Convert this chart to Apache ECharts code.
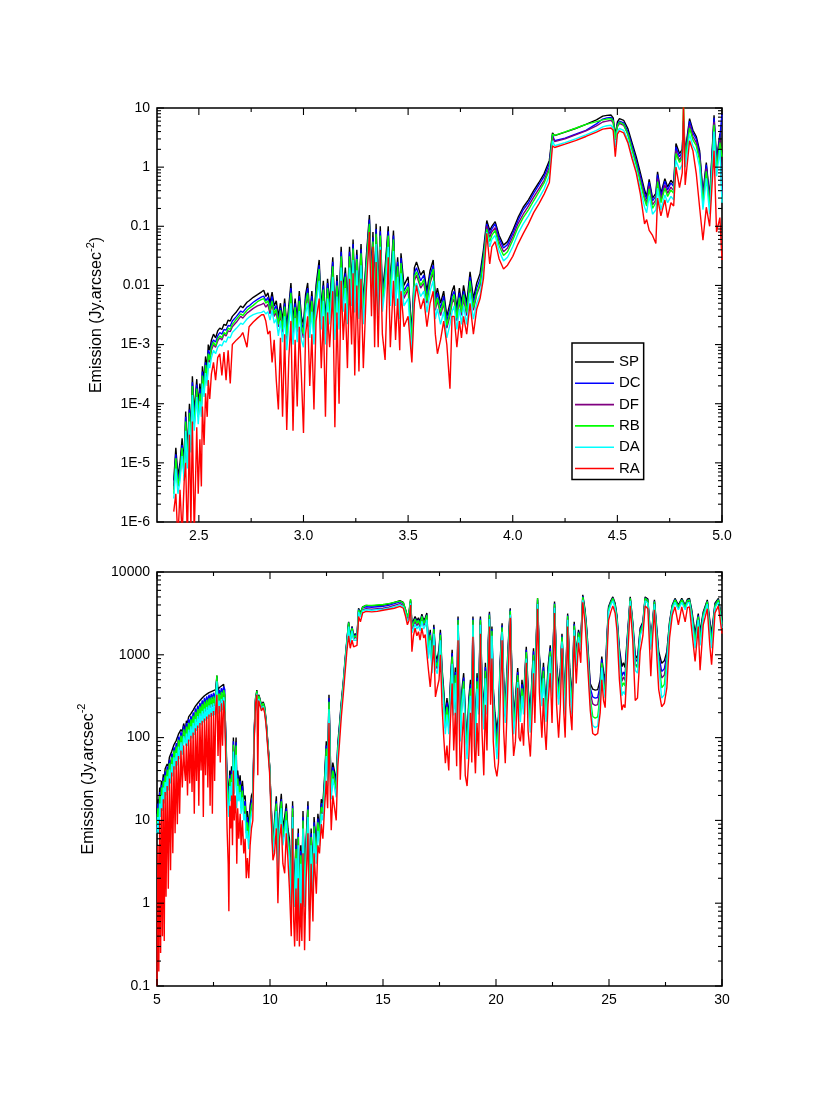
<!DOCTYPE html>
<html><head><meta charset="utf-8">
<script src="https://cdn.jsdelivr.net/npm/echarts@6/dist/echarts.min.js"></script>
<style>html,body{margin:0;padding:0;background:#fff}#c{width:830px;height:1110px}</style>
</head><body><div id="c"></div>
<script>
const seriesNames = ['SP','DC','DF','RB','DA','RA'];
const seriesColors = ['#000000','#0000ff','#800080','#00ff00','#00ffff','#ff0000'];

// ---------- top panel (2.3 - 5.0) ----------
const topX = [2.380,2.390,2.400,2.410,2.420,2.430,2.437,2.445,2.455,2.462,
2.469,2.478,2.490,2.497,2.505,2.512,2.517,2.525,2.532,2.540,
2.545,2.552,2.560,2.570,2.580,2.590,2.600,2.610,2.620,2.630,
2.640,2.650,2.660,2.680,2.700,2.710,2.730,2.740,2.760,2.780,
2.800,2.810,2.820,2.830,2.840,2.850,2.860,2.870,2.880,2.890,
2.900,2.910,2.920,2.930,2.940,2.950,2.960,2.970,2.980,2.990,
3.000,3.010,3.020,3.030,3.040,3.050,3.060,3.075,3.085,3.095,
3.105,3.115,3.125,3.140,3.150,3.160,3.170,3.180,3.190,3.200,
3.210,3.220,3.230,3.237,3.245,3.255,3.265,3.275,3.286,3.300,
3.315,3.325,3.332,3.340,3.347,3.357,3.367,3.377,3.390,3.405,
3.415,3.430,3.440,3.450,3.460,3.466,3.480,3.500,3.518,3.530,
3.540,3.560,3.575,3.590,3.605,3.620,3.630,3.640,3.655,3.670,
3.685,3.700,3.710,3.720,3.733,3.745,3.755,3.765,3.780,3.796,
3.812,3.828,3.844,3.860,3.876,3.890,3.900,3.916,3.935,3.956,
3.975,4.000,4.025,4.050,4.075,4.100,4.125,4.150,4.175,4.190,
4.200,4.250,4.300,4.350,4.400,4.430,4.450,4.470,4.480,4.490,
4.500,4.510,4.530,4.550,4.570,4.590,4.610,4.630,4.640,4.652,
4.668,4.684,4.692,4.708,4.727,4.740,4.756,4.769,4.780,4.797,
4.810,4.816,4.824,4.845,4.861,4.877,4.893,4.909,4.925,4.941,
4.962,4.974,4.990,5.000];
const topSP = [5e-6,1.8e-5,6e-6,1e-5,2.6e-5,1e-5,7.4e-5,1.5e-5,1e-4,3e-5,
2.9e-4,7e-5,2.6e-4,9e-5,2.2e-4,1.2e-4,4.3e-4,2.5e-4,6.3e-4,4e-4,
1e-3,8e-4,1.2e-3,1.5e-3,1.3e-3,1.7e-3,1.9e-3,1.8e-3,2.2e-3,2.1e-3,
2.6e-3,2.5e-3,3e-3,3.6e-3,4.5e-3,4.2e-3,5.2e-3,5.5e-3,6.3e-3,7e-3,
7.8e-3,8.3e-3,6.5e-3,7.5e-3,5e-3,7.7e-3,4.5e-3,5.5e-3,3e-3,5e-3,
2.5e-3,6e-3,2e-3,4.5e-3,1.1e-2,2.5e-3,6e-3,2.6e-3,8e-3,3e-3,
2.2e-3,7e-3,1.1e-2,3e-3,8e-3,2.5e-3,1e-2,2.7e-2,4e-3,1.2e-2,
2.5e-3,1.3e-2,5e-3,3e-2,3e-3,1.5e-2,4e-3,4.5e-2,8e-3,2e-2,
5e-3,4.5e-2,1e-2,6e-2,8e-3,4e-2,6e-3,5e-2,5e-3,3e-2,
0.155,1.5e-2,8e-2,6e-3,0.11,7e-3,0.1,8e-3,2e-2,0.1,
1e-2,8.5e-2,1e-2,3e-2,6e-3,3.5e-2,1e-2,1.4e-2,1.6e-3,2e-2,
2.5e-2,1.5e-2,1.8e-2,8e-3,1.8e-2,2.7e-2,6e-3,9e-3,5e-3,8e-3,
3e-3,5e-3,8e-3,1e-2,4e-3,9e-3,5e-3,1e-2,5e-3,1.7e-2,
6e-3,1.1e-2,1.6e-2,4e-2,0.125,8.5e-2,0.1,0.12,7e-2,4.8e-2,
5.5e-2,8.5e-2,0.14,0.21,0.28,0.4,0.55,0.78,1.3,3.8,
3.4,3.9,4.5,5.3,6.3,7.3,7.5,7.6,6.8,3.5,
5.8,6.6,6.2,4.5,2.6,1.5,0.8,0.41,0.32,0.62,
0.3,0.36,0.83,0.36,0.64,0.46,0.6,0.52,2.5,1.7,
2,6,1.8,6.6,4.2,3.3,1.9,0.36,1.2,0.3,
7.5,1.3,3.7,0.4];
const topDC = [4e-6,1.4e-5,5e-6,8e-6,2e-5,8e-6,6e-5,1.2e-5,8e-5,2.4e-5,
2.3e-4,5.5e-5,2.1e-4,7e-5,1.8e-4,1e-4,3.5e-4,2e-4,5e-4,3.2e-4,
8e-4,6.5e-4,1e-3,1.2e-3,1.1e-3,1.4e-3,1.6e-3,1.5e-3,1.8e-3,1.75e-3,
2.1e-3,2.05e-3,2.5e-3,3e-3,3.7e-3,3.5e-3,4.3e-3,4.5e-3,5.2e-3,5.8e-3,
6.4e-3,6.6e-3,5.5e-3,6.3e-3,4.2e-3,6.5e-3,3.8e-3,4.6e-3,2.5e-3,4.2e-3,
2e-3,5e-3,1.6e-3,3.8e-3,9e-3,2e-3,5e-3,2.1e-3,6.6e-3,2.4e-3,
1.8e-3,5.8e-3,9e-3,2.5e-3,6.6e-3,2e-3,8e-3,2.2e-2,3.3e-3,1e-2,
2e-3,1.1e-2,4e-3,2.5e-2,2.4e-3,1.2e-2,3.3e-3,3.7e-2,6.5e-3,1.6e-2,
4e-3,3.7e-2,8e-3,5e-2,6.5e-3,3.3e-2,5e-3,4.1e-2,4e-3,2.5e-2,
0.13,1.2e-2,6.5e-2,5e-3,9e-2,5.8e-3,8.2e-2,6.6e-3,1.6e-2,8.2e-2,
8e-3,7e-2,8e-3,2.5e-2,5e-3,2.9e-2,8e-3,1.1e-2,1.3e-3,1.6e-2,
2e-2,1.2e-2,1.5e-2,6.5e-3,1.5e-2,2.2e-2,5e-3,7.5e-3,4.1e-3,6.6e-3,
2.5e-3,4.1e-3,6.6e-3,8e-3,3.3e-3,7.5e-3,4.1e-3,8e-3,4.1e-3,1.4e-2,
5e-3,9e-3,1.3e-2,3.3e-2,0.11,7.5e-2,9e-2,0.11,6.2e-2,4.3e-2,
4.9e-2,7.6e-2,0.125,0.19,0.25,0.36,0.5,0.7,1.15,3.5,
2.8,3.1,3.6,4.2,5.4,6.5,6.8,6.9,6.2,3.2,
5.3,6.0,5.6,4.0,2.3,1.3,0.7,0.36,0.29,0.56,
0.27,0.32,0.75,0.32,0.58,0.41,0.54,0.47,2.2,1.5,
1.8,5.5,1.6,6,3.8,3,1.7,0.32,1.1,0.27,
6.8,1.2,3.3,8];
const topDF = [3.5e-6,1.1e-5,4e-6,6e-6,1.6e-5,6e-6,4.5e-5,1e-5,6e-5,2e-5,
1.8e-4,4.5e-5,1.7e-4,6e-5,1.4e-4,8e-5,2.8e-4,1.6e-4,4e-4,2.6e-4,
6.5e-4,5e-4,8e-4,1e-3,9e-4,1.15e-3,1.3e-3,1.2e-3,1.5e-3,1.4e-3,
1.7e-3,1.65e-3,2e-3,2.4e-3,3e-3,2.8e-3,3.4e-3,3.6e-3,4.1e-3,4.5e-3,
4.8e-3,5e-3,4.3e-3,4.8e-3,3.3e-3,5e-3,3e-3,3.5e-3,2e-3,3.3e-3,
1.6e-3,4e-3,1.2e-3,3e-3,7e-3,1.5e-3,4e-3,1.6e-3,5e-3,1.8e-3,
1.3e-3,4.5e-3,7e-3,1.9e-3,5e-3,1.5e-3,6e-3,1.7e-2,2.5e-3,7.5e-3,
1.5e-3,8e-3,3e-3,1.9e-2,1.8e-3,9e-3,2.5e-3,2.8e-2,5e-3,1.2e-2,
3e-3,2.8e-2,6e-3,3.8e-2,5e-3,2.5e-2,3.8e-3,3.1e-2,3e-3,1.9e-2,
0.1,9e-3,5e-2,3.8e-3,7e-2,4.4e-3,6.2e-2,5e-3,1.2e-2,6.2e-2,
6e-3,5.3e-2,6e-3,1.9e-2,3.8e-3,2.2e-2,6e-3,8.5e-3,1e-3,1.2e-2,
1.5e-2,9e-3,1.1e-2,5e-3,1.1e-2,1.7e-2,3.8e-3,5.6e-3,3.1e-3,5e-3,
1.9e-3,3.1e-3,5e-3,6e-3,2.5e-3,5.6e-3,3.1e-3,6e-3,3.1e-3,1.05e-2,
3.8e-3,7e-3,1e-2,2.5e-2,0.1,6.5e-2,8e-2,9.5e-2,5.4e-2,3.7e-2,
4.3e-2,6.6e-2,0.11,0.16,0.22,0.31,0.43,0.6,1,3.3,
2.7,3.0,3.5,4.1,5.0,5.8,6.0,6.2,5.6,2.9,
4.8,5.5,5.1,3.6,2.0,1.15,0.6,0.31,0.25,0.48,
0.23,0.28,0.64,0.28,0.5,0.36,0.46,0.4,1.9,1.3,
1.6,5,1.4,5.2,3.3,2.6,1.5,0.28,0.95,0.24,
5.8,1,2.9,0.35];
const topRB = [3e-6,1.2e-5,4e-6,7e-6,1.8e-5,7e-6,5e-5,1e-5,7e-5,2e-5,
2e-4,4.5e-5,1.8e-4,6e-5,1.5e-4,8e-5,3e-4,1.7e-4,4.5e-4,2.8e-4,
7e-4,5.5e-4,9e-4,1.1e-3,9.5e-4,1.25e-3,1.4e-3,1.3e-3,1.6e-3,1.5e-3,
1.9e-3,1.8e-3,2.2e-3,2.7e-3,3.3e-3,3.1e-3,3.8e-3,4.1e-3,4.6e-3,5.3e-3,
5.8e-3,6e-3,5e-3,5.5e-3,3.8e-3,5.5e-3,3.3e-3,4e-3,2.2e-3,3.8e-3,
1.8e-3,4.4e-3,1.4e-3,3.2e-3,7.5e-3,1.7e-3,4.3e-3,1.8e-3,5.5e-3,2e-3,
1.5e-3,5e-3,7.5e-3,2.1e-3,5.5e-3,1.7e-3,7e-3,1.9e-2,2.8e-3,8.5e-3,
1.7e-3,9e-3,3.4e-3,2.1e-2,2e-3,1e-2,2.8e-3,3.1e-2,5.5e-3,1.4e-2,
3.4e-3,3.1e-2,7e-3,4.2e-2,5.5e-3,2.8e-2,4.2e-3,3.5e-2,3.4e-3,2.1e-2,
0.11,1e-2,5.5e-2,4.2e-3,7.5e-2,4.9e-3,7e-2,5.5e-3,1.4e-2,7e-2,
7e-3,6e-2,7e-3,2.1e-2,4.2e-3,2.4e-2,7e-3,9.5e-3,1.1e-3,1.4e-2,
1.7e-2,1e-2,1.25e-2,5.5e-3,1.25e-2,1.9e-2,4.2e-3,6.2e-3,3.5e-3,5.5e-3,
2.1e-3,3.5e-3,5.5e-3,7e-3,2.8e-3,6.2e-3,3.5e-3,7e-3,3.5e-3,1.2e-2,
4.2e-3,7.5e-3,1.1e-2,2.8e-2,9e-2,5.5e-2,7e-2,8.5e-2,4.7e-2,3.2e-2,
3.7e-2,5.8e-2,9.5e-2,0.14,0.19,0.27,0.38,0.54,0.9,3.6,
3.45,3.95,4.55,5.3,5.9,6.3,6.5,6.6,6.0,3.0,
5.0,5.8,5.3,3.6,2.0,1.1,0.55,0.28,0.22,0.43,
0.2,0.25,0.57,0.25,0.44,0.32,0.41,0.36,1.7,1.2,
1.4,12,1.3,4.6,2.9,2.3,1.3,0.25,0.85,0.21,
5.2,0.9,2.6,1.5];
const topDA = [2.5e-6,8e-6,3e-6,5e-6,1.3e-5,5e-6,3.5e-5,8e-6,5e-5,1.5e-5,
1.4e-4,3.5e-5,1.3e-4,4.5e-5,1.1e-4,6e-5,2.2e-4,1.3e-4,3.3e-4,2e-4,
5e-4,4e-4,6e-4,8e-4,7e-4,9e-4,1e-3,9.5e-4,1.15e-3,1.1e-3,
1.35e-3,1.3e-3,1.6e-3,1.9e-3,2.3e-3,2.2e-3,2.7e-3,2.9e-3,3.2e-3,3.4e-3,
3.5e-3,3.7e-3,3.3e-3,3.6e-3,2.6e-3,3.8e-3,2.3e-3,2.7e-3,1.4e-3,2.5e-3,
1.1e-3,3e-3,8e-4,2.2e-3,5e-3,1e-3,2.8e-3,1.1e-3,3.7e-3,1.2e-3,
9e-4,3.3e-3,5e-3,1.3e-3,3.6e-3,1e-3,4.5e-3,1.2e-2,1.8e-3,5.5e-3,
1e-3,6e-3,2.2e-3,1.4e-2,1.2e-3,6.5e-3,1.8e-3,2e-2,3.6e-3,9e-3,
2.2e-3,2e-2,4.5e-3,2.7e-2,3.5e-3,1.8e-2,2.7e-3,2.2e-2,2.2e-3,1.4e-2,
7e-2,6.5e-3,3.6e-2,2.7e-3,5e-2,3.2e-3,4.5e-2,3.6e-3,9e-3,4.5e-2,
4.5e-3,3.8e-2,4.5e-3,1.4e-2,2.7e-3,1.6e-2,4.5e-3,6e-3,7e-4,9e-3,
1.1e-2,6.5e-3,8e-3,3.5e-3,8e-3,1.2e-2,2.7e-3,4e-3,2.2e-3,3.6e-3,
1.3e-3,2.2e-3,3.6e-3,4.5e-3,1.8e-3,4e-3,2.2e-3,4.5e-3,2.2e-3,7.5e-3,
2.7e-3,5e-3,7e-3,1.8e-2,8e-2,4.5e-2,6e-2,7e-2,3.8e-2,2.6e-2,
3e-2,4.5e-2,7.5e-2,0.11,0.15,0.22,0.3,0.43,0.72,2.8,
2.3,2.6,3.0,3.5,4.2,4.8,5.0,5.1,4.6,2.2,
4.0,4.5,4.2,2.9,1.6,0.9,0.43,0.21,0.17,0.33,
0.16,0.19,0.44,0.19,0.34,0.25,0.32,0.28,1.3,0.9,
1.1,6,1,3.6,2.3,1.8,1,0.19,0.65,0.16,
4,0.7,2,0.25];
const topRA = [1.5e-6,3e-6,5e-7,3.5e-6,6e-7,5e-6,1e-5,5e-7,3e-5,8e-7,
5e-5,6e-7,4e-5,3e-6,2.5e-5,4e-6,9e-5,2e-5,1.5e-4,6e-5,
2.5e-4,1.2e-4,3.2e-4,5e-4,2.5e-4,6e-4,7e-4,3e-4,7.5e-4,2.5e-4,
8e-4,2.2e-4,1e-3,1.2e-3,1.4e-3,1.6e-3,9e-4,2e-3,2.4e-3,2.8e-3,
3.2e-3,3.2e-3,2.5e-3,1.5e-3,1.7e-3,5e-4,1.2e-3,2.5e-4,8e-5,1.3e-3,
6e-5,1.5e-3,3.6e-5,6e-4,2.5e-3,3.5e-5,1.2e-3,9e-5,2e-3,3e-4,
3.2e-5,1.5e-3,3e-3,2e-4,1.5e-3,8e-5,2.5e-3,6e-3,4e-4,3e-3,
6e-5,3.5e-3,9e-4,8e-3,4e-5,3.5e-3,1e-4,1.2e-2,1.2e-3,5e-3,
4e-4,1.3e-2,1e-3,1.6e-2,3e-4,1e-2,3.5e-4,1.3e-2,4e-4,8e-3,
8e-2,3e-3,4.5e-2,9e-4,2.5e-2,9e-4,4e-2,1.5e-3,5.5e-4,3e-2,
9e-4,1.2e-2,1.2e-3,6e-3,8e-4,8e-3,2e-3,3e-3,5e-4,5e-3,
1e-2,4e-3,6e-3,2e-3,5e-3,8e-3,1.5e-3,7e-4,1.2e-3,2.5e-3,
1e-3,1.8e-4,3e-3,3e-3,9e-4,2.5e-3,1.3e-3,3e-3,1.5e-3,5e-3,
1.5e-3,4e-3,6e-3,1.3e-2,7.6e-2,2.3e-2,4.5e-2,5.5e-2,2.8e-2,1.9e-2,
2.2e-2,3.1e-2,5e-2,7.5e-2,0.11,0.17,0.24,0.35,0.55,2.3,
2.15,2.45,2.8,3.3,3.9,4.4,4.5,4.6,4.2,1.5,
3.6,4.1,3.8,2.6,1.4,0.8,0.35,0.11,0.13,0.085,
0.07,0.051,0.3,0.15,0.28,0.14,0.25,0.22,1.0,0.45,
0.8,12,0.5,2.8,1.9,0.78,0.21,0.058,0.21,0.1,
1.9,0.08,0.14,0.027];

// ---------- bottom panel (5 - 30) ----------
const botX = [5.00,5.04,5.08,5.12,5.16,5.20,5.24,5.28,5.32,5.36,
5.40,5.45,5.50,5.55,5.60,5.65,5.70,5.75,5.80,5.85,
5.90,5.95,6.00,6.06,6.12,6.18,6.22,6.26,6.30,6.35,
6.40,6.45,6.50,6.55,6.60,6.65,6.70,6.75,6.80,6.85,
6.90,6.95,7.00,7.05,7.10,7.15,7.20,7.25,7.30,7.35,
7.40,7.45,7.50,7.55,7.60,7.65,7.70,7.75,7.80,7.85,
7.90,7.95,8.00,8.03,8.06,8.10,8.15,8.18,8.22,8.26,
8.30,8.34,8.38,8.42,8.46,8.50,8.53,8.57,8.62,8.68,
8.72,8.78,8.84,8.90,8.95,9.00,9.06,9.12,9.18,9.24,
9.30,9.36,9.42,9.46,9.50,9.55,9.62,9.70,9.76,9.83,
9.90,9.98,10.05,10.13,10.20,10.28,10.35,10.42,10.50,10.57,
10.65,10.72,10.79,10.86,10.94,11.00,11.05,11.09,11.15,11.20,
11.25,11.30,11.36,11.41,11.46,11.53,11.60,11.68,11.75,11.82,
11.90,11.95,12.05,12.12,12.19,12.27,12.34,12.42,12.49,12.55,
12.61,12.67,12.71,12.78,12.86,12.93,13.00,13.08,13.15,13.25,
13.32,13.40,13.48,13.55,13.63,13.70,13.77,13.85,13.92,14.00,
14.10,14.25,14.50,14.75,15.00,15.25,15.50,15.75,15.90,16.00,
16.08,16.15,16.22,16.28,16.35,16.42,16.50,16.57,16.64,16.72,
16.80,16.87,16.94,17.01,17.09,17.17,17.25,17.32,17.40,17.48,
17.54,17.61,17.68,17.76,17.83,17.91,17.98,18.06,18.13,18.20,
18.26,18.32,18.38,18.42,18.50,18.57,18.64,18.72,18.80,18.87,
18.93,18.98,19.04,19.09,19.16,19.23,19.31,19.38,19.46,19.53,
19.60,19.66,19.71,19.76,19.82,19.88,19.95,20.04,20.11,20.18,
20.27,20.34,20.41,20.48,20.55,20.63,20.70,20.78,20.86,20.96,
21.02,21.08,21.15,21.22,21.34,21.42,21.52,21.60,21.66,21.72,
21.84,21.92,22.03,22.10,22.16,22.22,22.30,22.40,22.48,22.59,
22.68,22.77,22.85,22.92,23.00,23.06,23.17,23.26,23.36,23.46,
23.55,23.65,23.75,23.84,23.94,24.02,24.17,24.28,24.39,24.50,
24.61,24.68,24.76,24.83,24.90,24.98,25.08,25.17,25.27,25.35,
25.46,25.57,25.64,25.71,25.80,25.94,26.05,26.16,26.26,26.38,
26.50,26.60,26.72,26.85,26.93,27.01,27.12,27.20,27.33,27.45,
27.56,27.68,27.80,27.92,28.07,28.22,28.37,28.47,28.56,28.66,
28.81,28.95,29.03,29.17,29.35,29.46,29.54,29.69,29.84,30.00];
const botSP = [12,18,15,25,22,30,27,36,33,42,
40,48,45,58,55,68,65,82,78,92,
88,110,105,125,118,148,150,118,160,150,
178,170,195,185,215,205,240,228,260,250,
280,268,300,290,320,305,335,320,350,340,
360,350,370,355,380,560,370,400,390,420,
410,440,420,150,81,35,25,20,40,28,
45,30,100,35,60,100,25,40,28,35,
20,30,18,20,10,13,8,15,20,22,
120,300,375,200,330,300,250,270,240,160,
90,48,16,4.8,10,19.5,4,12,21,8,
11,16,8,6,1.4,17,2,1.5,6,1.2,
8,1,5,1.2,13,1.5,6,17,1.1,8,
2.1,11,4.8,12,7.7,18,16,35,90,40,
330,60,28,50,49,30,85,150,260,500,
870,1500,2500,1600,2200,1700,1800,1700,3650,3200,
3800,3950,3900,3950,4000,4100,4300,4500,4300,3500,
2900,3200,4600,2400,2600,2900,2600,2800,2500,3100,
2600,2800,3200,1250,2000,900,2300,1000,870,1200,
2000,700,400,180,300,180,450,1150,300,700,
200,2900,500,150,400,600,200,93,300,500,
250,2900,400,100,600,300,2900,500,200,800,
300,1500,3300,800,2200,400,200,124,180,800,
2400,500,250,600,1500,3650,700,180,300,690,
350,250,500,300,1250,400,200,600,1200,500,
4800,1000,380,800,400,250,700,1300,500,4400,
800,400,700,1800,600,300,3150,700,300,2500,
1000,2000,1500,5300,3500,2000,450,385,375,380,
500,950,600,500,1500,3800,4500,5000,4200,3000,
1200,720,800,700,1500,5000,2500,1000,900,2100,
2500,5000,4700,1500,2500,4600,2000,1100,790,850,
1100,2500,4000,4800,4000,4800,4000,4700,4800,3500,
1800,3150,1900,3300,4600,2600,1800,4200,4800,2600];
const botDC = [10,16,12,22,18,27,22,33,27,39,
33,45,37,54,45,64,54,77,65,86,
74,103,88,117,99,139,141,105,150,126,
167,143,183,156,202,172,226,192,244,210,
263,225,282,244,301,256,315,269,329,286,
338,294,348,298,357,540,311,376,328,395,
344,414,380,130,70,30,21,17,35,24,
40,26,90,30,53,88,21,35,24,30,
17,26,15,17,8.5,11,7,13,17,19,
110,290,360,190,320,290,240,260,230,155,
87,46,15,4.5,9,17,3.5,10.5,18,7,
9.5,14,7,5,1.2,15,1.7,1.3,5,1,
7,0.85,4.3,1,11,1.3,5,15,0.95,7,
1.8,9.5,4.2,10.5,6.8,16,14,31,80,36,
300,53,25,44,43,27,78,140,245,470,
830,1450,2450,1550,2150,1650,1750,1650,3550,3100,
3700,3800,3750,3800,3850,3950,4150,4350,4150,3400,
2800,3100,4500,2250,2450,2750,2450,2650,2350,2950,
2450,2650,3050,1150,1850,800,2150,900,780,1100,
1850,620,350,160,265,155,400,1050,260,620,
175,2750,440,130,350,530,175,80,265,440,
220,2750,350,88,530,265,2750,440,175,710,
265,1350,3150,710,2050,350,170,105,155,710,
2250,440,215,530,1350,3500,620,155,265,620,
310,220,440,265,1150,350,170,530,1100,440,
4600,900,330,710,350,220,620,1200,440,4200,
710,350,620,1700,530,265,3000,620,265,2350,
920,1900,1400,5100,3300,1850,400,310,300,305,
440,880,550,450,1400,3650,4350,4850,4050,2850,
1100,550,620,560,1400,4850,2350,900,820,2000,
2400,4850,4550,1400,2400,4450,1850,1000,630,680,
1000,2400,3900,4650,3850,4650,3850,4550,4650,3300,
1600,3000,1700,3150,4450,2400,1600,4050,4650,2450];
const botDF = [8,13,9,18,14,23,17,28,21,33,
26,39,29,47,36,56,43,67,52,75,
59,90,70,102,79,121,123,92,131,101,
146,114,160,124,176,138,197,154,213,168,
230,180,246,195,262,205,275,215,287,228,
295,235,303,239,312,520,249,328,262,344,
276,361,320,110,58,25,17,14,30,20,
34,22,78,25,45,75,17,30,20,26,
14,22,12,14,7,9,5.5,11,14,16,
100,280,350,180,305,280,230,250,220,150,
84,44,14,4.2,8,15,3,9,16,6,
8,12,6,4.3,1,13,1.4,1.1,4.3,0.85,
6,0.7,3.6,0.85,9.5,1.1,4.3,13,0.8,6,
1.5,8,3.6,9,5.8,14,12,27,70,31,
260,46,21,38,37,23,70,125,225,440,
780,1380,2350,1450,2050,1550,1650,1550,3400,2950,
3500,3600,3550,3600,3650,3750,3950,4150,3950,3250,
2650,2950,4300,2050,2250,2550,2250,2450,2150,2750,
2250,2450,2850,1000,1650,700,1950,780,680,950,
1650,530,300,130,220,130,340,900,220,530,
145,2500,370,110,300,450,145,68,220,370,
185,2500,290,74,450,220,2500,370,145,600,
220,1150,2900,600,1850,290,140,92,130,600,
2050,370,180,450,1150,3250,530,130,220,540,
260,185,370,220,1000,290,140,450,950,370,
4300,780,280,600,290,185,530,1050,370,3900,
600,290,530,1550,450,220,2800,530,220,2150,
800,1750,1250,4800,3050,1650,350,255,245,250,
380,780,480,400,1250,3450,4150,4650,3850,2650,
950,480,540,490,1250,4650,2150,780,720,1850,
2250,4650,4350,1250,2250,4250,1650,870,525,570,
880,2250,3700,4450,3650,4450,3650,4350,4450,3050,
1400,2800,1500,2950,4250,2150,1400,3850,4450,2250];
const botRB = [9,14,10,20,15,25,18,30,22,35,
27,41,31,49,38,58,45,70,55,78,
62,94,74,106,83,126,128,95,136,106,
151,120,166,130,183,145,204,160,221,175,
238,188,255,203,272,214,285,224,298,238,
306,245,315,249,323,560,259,340,273,357,
287,374,330,115,60,26,18,15,32,21,
36,23,82,26,47,80,18,32,21,27,
15,23,13,15,7.5,9.5,6,11.5,15,17,
105,290,365,190,320,290,240,260,230,155,
87,46,15,4.4,8.5,16,3.2,9.5,17,6.5,
8.5,13,6.5,4.5,1.05,14,1.5,1.15,4.5,0.9,
6.3,0.75,3.8,0.9,10,1.15,4.5,13.5,0.85,6.3,
1.6,8.5,3.8,9.5,6.1,14.5,12.5,28,74,33,
270,48,22,40,39,24,73,130,235,460,
810,1420,2450,1500,2100,1600,1700,1600,3500,3050,
3750,3950,3950,4000,4050,4150,4300,4450,4250,3450,
2850,3300,4700,2200,2400,2700,2400,2600,2300,2900,
2400,2600,3000,1080,1750,750,2050,830,720,1000,
1750,570,320,140,235,140,360,950,235,570,
155,2650,395,115,320,480,155,72,235,395,
195,2650,310,78,480,235,2650,395,155,640,
235,1250,3050,640,1950,310,150,75,140,640,
2150,395,190,480,1250,3400,570,140,235,570,
280,195,395,235,1080,310,150,480,1000,395,
4800,830,300,640,310,195,570,1100,395,4100,
640,310,570,1650,480,235,2950,570,235,2250,
850,1850,1350,5000,3200,1750,300,180,172,178,
330,800,450,350,1200,3550,4250,4800,3950,2750,
950,410,460,420,1200,4800,2250,750,700,1900,
2300,4800,4500,1300,2300,4400,1700,850,400,440,
850,2300,3800,4600,3800,4600,3800,4500,4600,3150,
1450,2900,1500,3050,4400,2200,1400,3950,4600,2350];
const botDA = [7,11,7,16,11,20,13,25,16,29,
20,34,23,41,28,48,34,58,41,65,
46,78,55,88,62,104,106,80,112,79,
125,90,137,98,151,108,168,120,182,131,
196,141,210,152,224,160,235,168,245,178,
252,184,259,186,266,480,194,280,205,294,
215,308,260,95,50,20,14,11,26,17,
29,18,68,21,38,62,14,26,17,22,
12,19,10,12,6,7.5,4.5,9,12,14,
95,270,340,170,295,270,220,240,210,145,
80,42,13,3.9,7,13,2.5,8,14,5,
7,10,5,3.6,0.8,11,1.2,0.9,3.5,0.7,
5,0.6,3,0.7,8,0.9,3.5,11,0.65,5,
1.3,7,3,7.5,4.9,12,10,23,60,26,
220,38,18,32,31,19,63,115,210,420,
740,1300,2200,1400,1950,1500,1550,1500,3300,2850,
3400,3500,3450,3500,3550,3650,3800,4000,3800,3150,
2550,2850,4200,1850,2050,2350,2050,2250,1950,2550,
2050,2250,2650,900,1500,600,1800,680,590,850,
1500,460,260,110,190,110,290,780,185,460,
125,2300,320,90,260,390,125,55,190,320,
155,2300,250,62,390,190,2300,320,125,520,
190,1050,2700,520,1700,250,115,55,110,520,
1900,320,150,390,1050,3050,460,110,190,470,
225,155,320,190,900,250,115,390,850,320,
4100,680,240,520,250,155,460,950,320,3700,
520,250,460,1450,390,190,2650,460,190,2000,
720,1650,1150,4600,2850,1500,260,140,132,138,
280,700,390,300,1050,3300,4000,4500,3700,2500,
850,320,360,330,1050,4500,2000,650,600,1700,
2100,4500,4200,1150,2100,4100,1500,730,300,330,
730,2100,3550,4300,3500,4300,3500,4200,4300,2850,
1200,2650,1300,2800,4100,1900,1200,3700,4300,2100];
const botRA = [0.1,5,0.15,10,0.25,14,0.4,18,0.35,22,
1.2,26,1.5,32,2.5,38,4,45,7,52,
9,60,12,70,25,80,40,30,85,20,
95,28,105,22,115,12,130,30,140,15,
150,40,160,11,170,35,180,25,190,15,
200,12,210,30,220,330,60,240,50,260,
80,280,200,80,30,8,3,0.8,15,8,
20,5,40,10,20,12,3,14,6,12,
5,10,4,6,2,3.5,2,5,8,10,
90,260,330,35,280,250,210,230,200,140,
75,38,11,3.3,4,8,1,6,9,3,
2.3,7,3.5,1.5,0.4,8,0.6,0.3,1.5,0.35,
2,0.3,1,0.35,4,0.27,2,7,0.35,3,
0.6,4,1.3,5,4,9,6,15,30,14,
150,20,7.6,20,19,10,45,90,170,350,
600,1100,1700,1200,1500,1250,1200,1300,2900,2500,
3200,3350,3300,3350,3450,3550,3650,3850,3650,2900,
2300,2600,4000,1090,1700,2100,1700,1900,1500,2100,
1600,1750,1040,660,410,400,1300,310,400,500,
1000,250,110,49,80,40,150,450,70,200,
45,1500,120,31,100,200,35,26,60,200,
50,1650,80,37,150,60,1800,120,35,250,
70,600,2200,250,900,90,45,34,50,250,
1500,120,49,180,700,2800,200,60,90,400,
100,90,150,80,800,120,59,200,600,150,
3600,350,100,300,120,71,250,600,150,3200,
250,100,250,1200,200,100,2200,250,123,1700,
450,1400,800,4300,2400,1100,215,112,107,112,
200,500,280,230,800,2600,3300,3900,3200,2000,
500,215,250,230,700,3900,1500,280,300,1100,
1700,3900,3600,550,1600,3500,900,380,236,260,
400,1600,3000,3800,2300,3800,2500,3700,3800,2000,
830,2200,650,2300,3600,1300,760,3200,3900,1800];

// axis ranges and tick positions
const topXRange = [2.3, 5.0], topYRange = [1e-6, 10];
const botXRange = [5, 30], botYRange = [0.1, 10000];
const topXMajor = [2.5, 3.0, 3.5, 4.0, 4.5, 5.0];
const topXMinor = [2.75, 3.25, 3.75, 4.25, 4.75];
const botXMajor = [5, 10, 15, 20, 25, 30];
const botXMinor = [7.5, 12.5, 17.5, 22.5, 27.5];
const topYDecades = [-6, -5, -4, -3, -2, -1, 0, 1];
const botYDecades = [-1, 0, 1, 2, 3, 4];

const topY = [topSP, topDC, topDF, topRB, topDA, topRA];
const botY = [botSP, botDC, botDF, botRB, botDA, botRA];

const FONT = 'Liberation Sans';
const MAJ = 7, MIN = 4;

function tickData(xr, yr, xMaj, xMin, decades) {
  const d = [];
  xMaj.forEach(v => d.push([v, yr[0], MAJ, 0]));
  xMin.forEach(v => d.push([v, yr[0], MIN, 0]));
  decades.forEach((e, i) => {
    d.push([xr[0], Math.pow(10, e), MAJ, 1]);
    if (i < decades.length - 1) {
      for (let m = 2; m < 10; m++) d.push([xr[0], m * Math.pow(10, e), MIN, 1]);
    }
  });
  return d;
}
function tickRender(xr, yr) {
  return function (params, api) {
    const len = api.value(2), isY = api.value(3);
    const st = { stroke: '#000', lineWidth: 1.1 };
    if (isY) {
      const v = api.value(1);
      const a = api.coord([xr[0], v]), b = api.coord([xr[1], v]);
      return { type: 'group', children: [
        { type: 'line', shape: { x1: a[0], y1: a[1], x2: a[0] + len, y2: a[1] }, style: st },
        { type: 'line', shape: { x1: b[0] - len, y1: b[1], x2: b[0], y2: b[1] }, style: st }] };
    }
    const v = api.value(0);
    const a = api.coord([v, yr[0]]), b = api.coord([v, yr[1]]);
    return { type: 'group', children: [
      { type: 'line', shape: { x1: a[0], y1: a[1], x2: a[0], y2: a[1] - len }, style: st },
      { type: 'line', shape: { x1: b[0], y1: b[1], x2: b[0], y2: b[1] + len }, style: st }] };
  };
}
function supName() { return 'Emission (Jy.arcsec{sup|-2}'; }
const nameStyle = {
  fontSize: 16, fontFamily: FONT, color: '#000', lineHeight: 24,
  rich: { sup: { fontSize: 11, fontFamily: FONT, color: '#000', verticalAlign: 'top', lineHeight: 24 } }
};
const labelStyle = { fontSize: 14, fontFamily: FONT, color: '#000', margin: 7 };

const series = [];
[0, 1].forEach(g => {
  const X = g === 0 ? topX : botX;
  const Ys = g === 0 ? topY : botY;
  Ys.forEach((Y, k) => {
    series.push({
      type: 'line', name: seriesNames[k], xAxisIndex: g, yAxisIndex: g,
      data: X.map((x, i) => [x, Y[i]]),
      showSymbol: false, symbol: 'none', clip: true,
      lineStyle: { width: 1.4, color: seriesColors[k] },
      itemStyle: { color: seriesColors[k] },
      emphasis: { disabled: true }, animation: false, z: 2 + k
    });
  });
});
series.push({ type: 'custom', xAxisIndex: 0, yAxisIndex: 0, silent: true, z: 20, animation: false,
  renderItem: tickRender(topXRange, topYRange), data: tickData(topXRange, topYRange, topXMajor, topXMinor, topYDecades) });
series.push({ type: 'custom', xAxisIndex: 1, yAxisIndex: 1, silent: true, z: 20, animation: false,
  renderItem: tickRender(botXRange, botYRange), data: tickData(botXRange, botYRange, botXMajor, botXMinor, botYDecades) });

const chart = echarts.init(document.getElementById('c'), null, { renderer: 'canvas' });
chart.setOption({
  backgroundColor: '#fff',
  animation: false,
  grid: [
    { left: 157, top: 108, width: 565, height: 414, show: true, borderColor: '#000', borderWidth: 1.6, backgroundColor: 'transparent' },
    { left: 157, top: 572, width: 565, height: 414, show: true, borderColor: '#000', borderWidth: 1.6, backgroundColor: 'transparent' }
  ],
  xAxis: [
    { type: 'value', gridIndex: 0, min: topXRange[0], max: topXRange[1], interval: 0.1,
      axisLine: { show: false }, axisTick: { show: false }, splitLine: { show: false },
      axisLabel: Object.assign({}, labelStyle, { formatter: v => (Math.abs(v * 2 - Math.round(v * 2)) < 1e-6 ? v.toFixed(1) : '') }) },
    { type: 'value', gridIndex: 1, min: botXRange[0], max: botXRange[1], interval: 5,
      axisLine: { show: false }, axisTick: { show: false }, splitLine: { show: false },
      axisLabel: Object.assign({}, labelStyle) }
  ],
  yAxis: [
    { type: 'log', logBase: 10, gridIndex: 0, min: topYRange[0], max: topYRange[1], splitNumber: 7,
      axisLine: { show: false }, axisTick: { show: false }, splitLine: { show: false }, minorTick: { show: false },
      axisLabel: Object.assign({}, labelStyle, { formatter: v => { const e = Math.round(Math.log10(v)); return e >= 0 ? String(Math.pow(10, e)) : (e >= -2 ? Math.pow(10, e).toFixed(-e) : '1E' + e); } }),
      name: supName() + ')', nameLocation: 'middle', nameRotate: 90, nameGap: 48, nameTextStyle: nameStyle },
    { type: 'log', logBase: 10, gridIndex: 1, min: botYRange[0], max: botYRange[1], splitNumber: 5,
      axisLine: { show: false }, axisTick: { show: false }, splitLine: { show: false }, minorTick: { show: false },
      axisLabel: Object.assign({}, labelStyle, { formatter: v => { const e = Math.round(Math.log10(v)); return e >= 0 ? String(Math.pow(10, e)) : Math.pow(10, e).toFixed(-e); } }),
      name: supName(), nameLocation: 'middle', nameRotate: 90, nameGap: 56, nameTextStyle: nameStyle }
  ],
  legend: {
    data: seriesNames, orient: 'vertical', left: 572, top: 343,
    icon: 'rect', itemWidth: 39, itemHeight: 1.6, itemGap: 3.3,
    padding: [10, 3, 2, 3], borderColor: '#000', borderWidth: 1.5, backgroundColor: '#fff',
    selectedMode: false,
    textStyle: { fontSize: 15, fontFamily: FONT, color: '#000', lineHeight: 18 }
  },
  series: series
});
</script>
</body></html>
